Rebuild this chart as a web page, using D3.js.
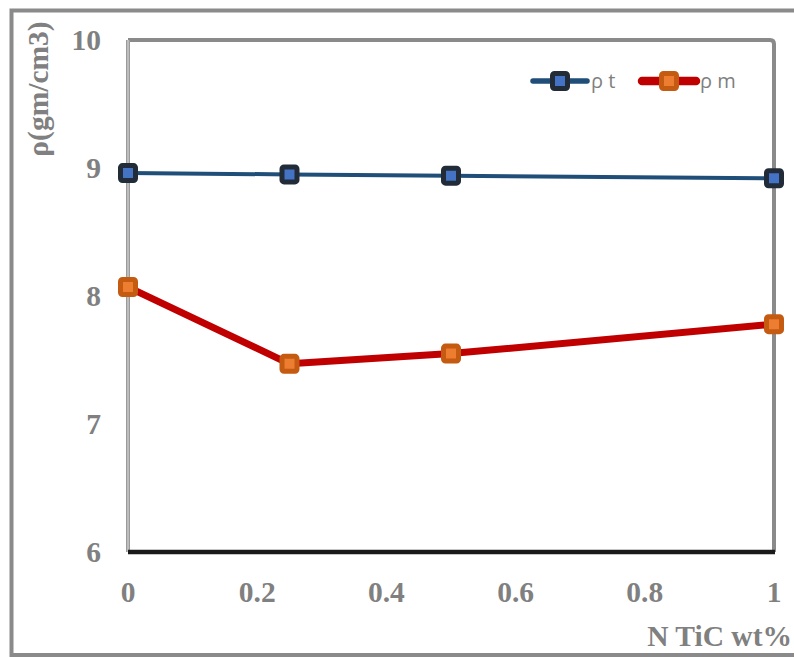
<!DOCTYPE html>
<html><head><meta charset="utf-8">
<script src="https://cdn.jsdelivr.net/npm/d3@7"></script>
<style>body{margin:0;background:#fff}svg{display:block}</style>
</head><body>
<script>
const xValues = [0, 0.25, 0.5, 1];
const rhoT = [8.96, 8.95, 8.94, 8.92];
const rhoM = [8.07, 7.47, 7.55, 7.78];
const xTicks = [0, 0.2, 0.4, 0.6, 0.8, 1];
const yTicks = [6, 7, 8, 9, 10];
const seriesNames = ["ρ t", "ρ m"];

const W = 794, H = 657;
const svg = d3.select("body").append("svg").attr("width", W).attr("height", H);

// outer frame
svg.append("path").attr("d", `M800,10.5 L11.5,10.5 L11.5,655 L800,655`)
  .attr("fill", "none").attr("stroke", "#8a8a8a").attr("stroke-width", 4);

const L = 128, R = 774, T = 40, B = 552;
const x = d3.scaleLinear().domain([0, 1]).range([L, R]);
const y = d3.scaleLinear().domain([6, 10]).range([B, T]);

// plot border (top and right, rounded corner)
svg.append("path").attr("d", `M${L},${T} L${R-4},${T} Q${R},${T} ${R},${T+4} L${R},${B}`)
  .attr("fill", "none").attr("stroke", "#8a8a8a").attr("stroke-width", 4);

// left axis double line
svg.append("line").attr("x1", L).attr("x2", L).attr("y1", T).attr("y2", B)
  .attr("stroke", "#9a9a9a").attr("stroke-width", 4);
svg.append("line").attr("x1", L).attr("x2", L).attr("y1", T).attr("y2", B)
  .attr("stroke", "#e0e0e0").attr("stroke-width", 1);

// bottom axis
svg.append("line").attr("x1", L).attr("x2", R + 1).attr("y1", B).attr("y2", B)
  .attr("stroke", "#1a1a1a").attr("stroke-width", 4.5);

const tickFont = "'Liberation Serif', 'Times New Roman', serif";
const fs = 29.5;
// y tick labels
svg.append("g").selectAll("text").data(yTicks).join("text")
  .attr("x", 101).attr("y", d => y(d)).attr("dy", "0.35em")
  .attr("text-anchor", "end").attr("font-family", tickFont).attr("font-weight", "bold")
  .attr("font-size", fs).attr("fill", "#808080").text(d => d);

// x tick labels
svg.append("g").selectAll("text").data(xTicks).join("text")
  .attr("x", d => x(d)).attr("y", 602)
  .attr("text-anchor", "middle").attr("font-family", tickFont).attr("font-weight", "bold")
  .attr("font-size", fs).attr("fill", "#808080").text(d => d);

// axis titles
svg.append("text").attr("x", 792).attr("y", 646).attr("text-anchor", "end")
  .attr("font-family", tickFont).attr("font-weight", "bold").attr("font-size", fs)
  .attr("fill", "#808080").text("N TiC wt%");
svg.append("text").attr("transform", "translate(48,89) rotate(-90)").attr("text-anchor", "middle")
  .attr("font-family", tickFont).attr("font-weight", "bold").attr("font-size", fs)
  .attr("fill", "#808080").text("ρ(gm/cm3)");

const line = d3.line().x((d, i) => x(xValues[i])).y(d => y(d));
const series = [
  {name: seriesNames[0], values: rhoT, line: "#1f4e79", lw: 4, mStroke: "#222b38", mFill: "#4472c4"},
  {name: seriesNames[1], values: rhoM, line: "#c00000", lw: 7, mStroke: "#c55a11", mFill: "#ed7d31"}
];

function marker(g, cx, cy, s) {
  g.append("rect").attr("x", cx - 7.5).attr("y", cy - 7.5).attr("width", 15).attr("height", 15)
    .attr("rx", 2).attr("fill", s.mFill).attr("stroke", s.mStroke).attr("stroke-width", 5);
}

series.forEach(s => {
  svg.append("path").datum(s.values).attr("d", line).attr("fill", "none")
    .attr("stroke", s.line).attr("stroke-width", s.lw).attr("stroke-linejoin", "round");
  const g = svg.append("g");
  s.values.forEach((v, i) => marker(g, x(xValues[i]), y(v), s));
});

// legend
const legX = [533, 642];
series.forEach((s, i) => {
  const g = svg.append("g");
  g.append("line").attr("x1", legX[i]).attr("x2", legX[i] + 54).attr("y1", 81).attr("y2", 81)
    .attr("stroke", s.line).attr("stroke-width", s.lw + 1.5).attr("stroke-linecap", "round");
  marker(g, legX[i] + 27, 81, s);
  g.append("text").attr("x", legX[i] + 58).attr("y", 81).attr("dy", "0.35em")
    .attr("font-family", "'Open Sans', 'Noto Sans', sans-serif").attr("font-size", 20)
    .attr("fill", "#7f7f7f").text(s.name);
});
</script>
</body></html>
